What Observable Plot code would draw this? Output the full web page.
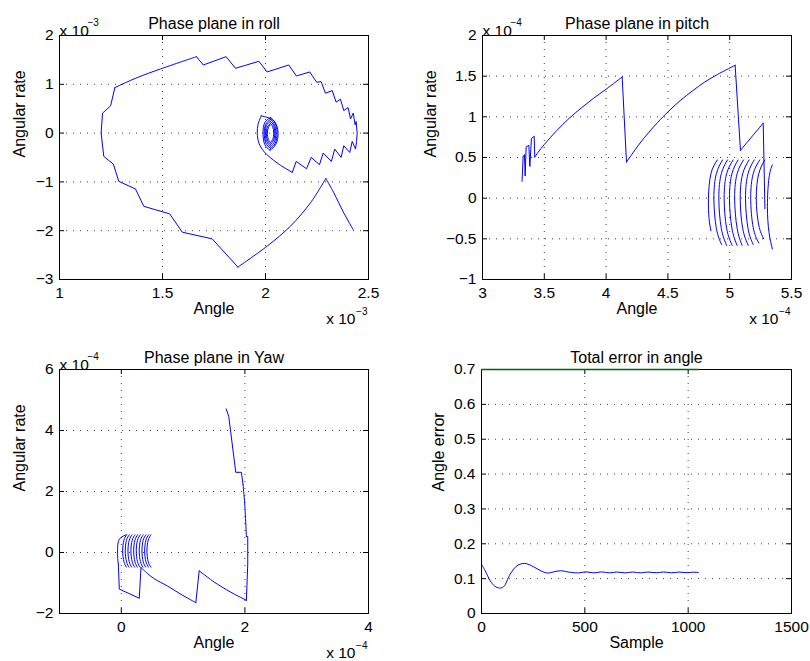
<!DOCTYPE html>
<html>
<head>
<meta charset="utf-8">
<script src="https://cdn.jsdelivr.net/npm/d3@7"></script>
<script src="https://cdn.jsdelivr.net/npm/@observablehq/plot@0.6"></script>
<style>
  body { margin: 0; background: #fff; }
  #wrap { position: relative; width: 810px; height: 661px; background: #fff; overflow: hidden; }
  .panel { position: absolute; }
</style>
</head>
<body>
<div id="wrap"></div>
<script>
// ================= Roll phase plane (units: 1e-3) =================
// straight (piecewise-linear) parts of the trajectory
const rollLineX  = [1.866,1.741,1.596,1.535,1.409,1.369,1.288,1.261,1.215,1.202,1.209,1.248,1.269,
                    1.665,1.698,1.809,1.854,1.968,2.008,2.113,2.150,2.215,2.248,2.270,2.291,2.324,2.343,2.364,2.380,2.401,2.413,2.426,2.435,2.440,2.445,2.442,2.437,2.421,2.409,2.380,2.367,2.336,2.320,2.280,2.262,2.222,2.199,2.149,2.130];
const rollLineY  = [-2.745,-2.167,-2.03,-1.656,-1.5,-1.145,-0.989,-0.635,-0.477,0,0.409,0.558,0.933,
                    1.566,1.396,1.566,1.328,1.471,1.253,1.396,1.171,1.253,1.042,1.055,0.817,0.871,0.634,0.695,0.462,0.523,0.292,0.409,0.17,0.238,0,-0.17,-0.327,-0.17,-0.396,-0.259,-0.498,-0.327,-0.58,-0.409,-0.648,-0.498,-0.73,-0.58,-0.805];
const rollLineId = [0,0,0,0,0,0,0,0,0,0,0,0,0,
                    1,1,1,1,1,1,1,1,1,1,1,1,1,1,1,1,1,1,1,1,1,1,1,1,1,1,1,1,1,1,1,1,1,1,1,1];
// smooth parts of the trajectory
const rollCurveX  = [2.426,2.380,2.332,2.293, 2.293,2.218,2.121,2.008,1.866, 1.269,1.377,1.490,1.665, 2.130,2.057,1.992,1.968,1.960,1.964,1.979];
const rollCurveY  = [-1.98,-1.635,-1.226,-0.93, -0.93,-1.43,-1.907,-2.316,-2.745, 0.933,1.137,1.314,1.566, -0.805,-0.613,-0.375,-0.204,0,0.18,0.354];
const rollCurveId = [0,0,0,0, 1,1,1,1,1, 2,2,2,2, 3,3,3,3,3,3,3];
// inner decaying spiral, one half-loop per arc (top, upper, middle, lower, bottom)
const rollArcTopX = [1.979,2.024,2.024,2.024,2.024,2.024,2.024,2.024,2.024,2.024];
const rollArcUpX  = [2.040,1.996,2.047,2.001,2.043,2.005,2.039,2.010,2.035,2.014];
const rollArcMidX = [2.061,1.988,2.056,1.994,2.050,1.999,2.045,2.004,2.040,2.009];
const rollArcLowX = [2.050,1.996,2.047,2.001,2.043,2.005,2.039,2.010,2.035,2.014];
const rollArcBotX = [2.022,2.022,2.024,2.024,2.024,2.024,2.024,2.024,2.024,2.024];
const rollArcTopY = [0.354,0.32,0.32,0.28,0.28,0.24,0.24,0.20,0.20,0.17];
const rollArcUpY  = [0.25,0.21,0.21,0.18,0.18,0.16,0.16,0.13,0.13,0.11];
const rollArcMidY = [0,0,0,0,0,0,0,0,0,0];
const rollArcLowY = [-0.23,-0.23,-0.21,-0.20,-0.18,-0.17,-0.15,-0.15,-0.13,-0.13];
const rollArcBotY = [-0.35,-0.35,-0.31,-0.31,-0.27,-0.27,-0.23,-0.23,-0.19,-0.19];

// ================= Pitch phase plane (units: 1e-4) =================
const pitchLineX  = [3.320,3.329,3.340,3.345,3.353,3.375,3.383,3.396,3.418,3.423, 4.13,4.165, 5.044,5.087, 5.271,5.285];
const pitchLineY  = [0.206,0.519,0.535,0.272,0.63,0.65,0.39,0.733,0.762,0.506, 1.49,0.444, 1.634,0.588, 0.922,-0.13];
const pitchLineId = [0,0,0,0,0,0,0,0,0,0, 1,1, 2,2, 3,3];
const pitchCurveX  = [3.423,3.45,3.5,3.6,3.7,3.8,3.9,4.0,4.13, 4.165,4.2,4.281,4.416,4.5,4.6,4.7,4.8,4.9,5.044, 5.087,5.184,5.271];
const pitchCurveY  = [0.506,0.565,0.66,0.83,0.98,1.11,1.23,1.34,1.49, 0.444,0.52,0.69,0.93,1.06,1.20,1.32,1.43,1.52,1.634, 0.588,0.765,0.922];
const pitchCurveId = [0,0,0,0,0,0,0,0,0, 1,1,1,1,1,1,1,1,1,1, 2,2,2];
const pitchArcTopX = [4.901,4.942,4.982,5.028,5.068,5.112,5.157,5.198,5.243,5.284,5.345];
const pitchArcUpX  = [4.848,4.892,4.932,4.975,5.018,5.060,5.105,5.148,5.190,5.235,5.318];
const pitchArcMidX = [4.828,4.872,4.912,4.955,4.998,5.040,5.085,5.128,5.170,5.215,5.305];
const pitchArcLowX = [4.833,4.892,4.932,4.975,5.018,5.060,5.105,5.148,5.190,5.235,5.318];
const pitchArcBotX = [4.848,4.935,4.975,5.020,5.060,5.100,5.150,5.190,5.235,5.275,5.345];
const pitchArcTopY = [0.47,0.47,0.47,0.47,0.47,0.47,0.47,0.47,0.47,0.47,0.41];
const pitchArcUpY  = [0.30,0.30,0.30,0.30,0.30,0.30,0.30,0.30,0.30,0.30,0.25];
const pitchArcMidY = [0,0,0,0,0,0,0,0,0,0,-0.10];
const pitchArcLowY = [-0.25,-0.37,-0.37,-0.37,-0.37,-0.37,-0.37,-0.37,-0.36,-0.33,-0.42];
const pitchArcBotY = [-0.40,-0.57,-0.58,-0.58,-0.58,-0.58,-0.58,-0.57,-0.55,-0.50,-0.625];

// ================= Yaw phase plane (units: 1e-4) =================
const yawLineX  = [1.696,1.739,1.852,1.943,1.970, 2.024,2.046,2.046,2.024, 1.260,1.206, 0.318,0.291,-0.032,-0.048];
const yawLineY  = [4.71,4.458,2.629,2.629,2.223, 0.526,0.526,-0.383,-1.566, -0.602,-1.643, -0.493,-1.50,-1.20,-0.383];
const yawLineId = [0,0,0,0,0, 1,1,1,1, 2,2, 3,3,3,3];
const yawCurveX  = [1.970,1.997,2.024, 2.024,1.771,1.503,1.390,1.260, 1.206,0.964,0.748,0.533,0.425,0.318];
const yawCurveY  = [2.223,1.588,0.526, -1.566,-1.30,-0.97,-0.80,-0.602, -1.643,-1.37,-1.10,-0.86,-0.69,-0.493];
const yawCurveId = [0,0,0, 1,1,1,1,1, 2,2,2,2,2,2];
const yawArcTopX = [0.075,0.087,0.129,0.173,0.221,0.265,0.307,0.355,0.399,0.443,0.480];
const yawArcUpX  = [-0.035,0.042,0.084,0.128,0.176,0.220,0.262,0.310,0.354,0.398,0.435];
const yawArcMidX = [-0.060,0.022,0.064,0.108,0.156,0.200,0.242,0.290,0.334,0.378,0.415];
const yawArcLowX = [-0.058,0.042,0.084,0.128,0.176,0.220,0.262,0.310,0.354,0.398,0.435];
const yawArcBotX = [-0.048,0.082,0.124,0.168,0.216,0.260,0.302,0.350,0.394,0.438,0.480];
const yawArcTopY = [0.58,0.58,0.58,0.58,0.58,0.58,0.58,0.58,0.58,0.58,0.58];
const yawArcUpY  = [0.42,0.40,0.40,0.40,0.40,0.40,0.40,0.40,0.40,0.40,0.40];
const yawArcMidY = [0.10,0.05,0.05,0.05,0.05,0.05,0.05,0.05,0.05,0.05,0.05];
const yawArcLowY = [-0.20,-0.30,-0.30,-0.30,-0.30,-0.30,-0.30,-0.30,-0.30,-0.30,-0.30];
const yawArcBotY = [-0.383,-0.48,-0.48,-0.48,-0.48,-0.48,-0.48,-0.48,-0.48,-0.48,-0.48];

// ================= Total error in angle =================
const errSample = [0,18,42,66,87,107,139,172,209,252,293,320,350,382,431,470,505,545,580,620,655,695,730,770,805,845,880,920,955,995,1025,1049];
const errValue  = [0.141,0.1227,0.094,0.0776,0.073,0.0767,0.113,0.137,0.1437,0.134,0.1207,0.116,0.1195,0.1227,0.118,0.1165,0.1195,0.1165,0.1195,0.1165,0.119,0.1165,0.119,0.1165,0.119,0.1168,0.119,0.1168,0.1188,0.117,0.1185,0.1175];
const limitSample = [0, 1050];
const limitValue = [0.7, 0.7];

// ================= Axes =================
const rollXTicks = [1,1.5,2,2.5], rollYTicks = [-3,-2,-1,0,1,2];
const pitchXTicks = [3,3.5,4,4.5,5,5.5], pitchYTicks = [-1,-0.5,0,0.5,1,1.5,2];
const yawXTicks = [0,2,4], yawYTicks = [-2,0,2,4,6];
const errXTicks = [0,500,1000,1500], errYTicks = [0,0.1,0.2,0.3,0.4,0.5,0.6,0.7];

const BLUE = "#0000ff";
const FONT = "'Liberation Sans', Arial, Helvetica, sans-serif";
const fmt = d => String(d).replace("-", "\u2212");

function pts(xs, ys) { return xs.map((x, i) => ({x, y: ys[i]})); }
function pieces(xs, ys, ids) { return xs.map((x, i) => ({x, y: ys[i], piece: ids[i]})); }
function arcs(xs, ys) {
  // xs, ys: [top, upper, middle, lower, bottom]; each arc is one series
  const out = [];
  xs[0].forEach((_, i) => {
    [0, 1, 2, 3, 4].forEach(k => out.push({arc: i, x: xs[k][i], y: ys[k][i]}));
  });
  return out;
}

function panel(cfg) {
  const W = 405;
  const pw = W - cfg.ml - cfg.mr;
  const ph = cfg.h - cfg.mt - cfg.mb;
  const grid = {stroke: "#000", strokeOpacity: 0.75, strokeDasharray: "1,6"};
  const marks = [
    Plot.gridX({ticks: cfg.xTicks, ...grid}),
    Plot.gridY({ticks: cfg.yTicks, ...grid}),
    Plot.tickX(cfg.xTicks, {x: d => d, insetTop: ph - 5, stroke: "#000"}),
    Plot.tickX(cfg.xTicks, {x: d => d, insetBottom: ph - 5, stroke: "#000"}),
    Plot.tickY(cfg.yTicks, {y: d => d, insetRight: pw - 5, stroke: "#000"}),
    Plot.tickY(cfg.yTicks, {y: d => d, insetLeft: pw - 5, stroke: "#000"}),
    Plot.axisX({ticks: cfg.xTicks, tickSize: 0, tickPadding: 7, tickFormat: fmt, label: null, fontSize: 15.5}),
    Plot.axisY({ticks: cfg.yTicks, tickSize: 0, tickPadding: 6, tickFormat: fmt, label: null, fontSize: 15.5}),
    ...cfg.marks,
    Plot.frame({stroke: "#000"}),
    ...(cfg.topMarks || []),
    Plot.text([cfg.title], {frameAnchor: "top", dy: -18, fontSize: 16}),
    Plot.text([cfg.xLabel], {frameAnchor: "bottom", dy: 34, fontSize: 16}),
    Plot.text([cfg.yLabel], {frameAnchor: "left", dx: cfg.yLabelDx, rotate: -90, fontSize: 16})
  ];
  if (cfg.expo) {
    marks.push(
      Plot.text(["x 10"], {frameAnchor: "top-left", textAnchor: "start", dy: -11, fontSize: 15.5}),
      Plot.text([cfg.expo], {frameAnchor: "top-left", textAnchor: "start", dx: 28, dy: -17, fontSize: 10}),
      Plot.text(["x 10"], {frameAnchor: "bottom-right", textAnchor: "end", dx: -13, dy: 44, fontSize: 15.5}),
      Plot.text([cfg.expo], {frameAnchor: "bottom-right", textAnchor: "end", dx: -1, dy: 35, fontSize: 10})
    );
  }
  const svg = Plot.plot({
    width: W, height: cfg.h,
    marginLeft: cfg.ml, marginRight: cfg.mr, marginTop: cfg.mt, marginBottom: cfg.mb,
    style: {fontFamily: FONT, fontSize: "15.5px", background: "transparent", color: "#000", overflow: "visible"},
    x: {domain: cfg.xDomain},
    y: {domain: cfg.yDomain},
    marks
  });
  const div = document.createElement("div");
  div.className = "panel";
  div.style.left = cfg.left + "px";
  div.style.top = cfg.top + "px";
  div.appendChild(svg);
  document.getElementById("wrap").appendChild(div);
}

const lineOpts = {x: "x", y: "y", stroke: BLUE, strokeWidth: 1};
const pieceLine = {...lineOpts, z: "piece"};
const pieceCurve = {...lineOpts, z: "piece", curve: "catmull-rom"};
const arcOpts = {...lineOpts, z: "arc", curve: "natural"};

panel({
  left: 0, top: 0, h: 330, ml: 59, mr: 37, mt: 35, mb: 51,
  xDomain: [1, 2.5], yDomain: [-3, 2], xTicks: rollXTicks, yTicks: rollYTicks,
  title: "Phase plane in roll", xLabel: "Angle", yLabel: "Angular rate", yLabelDx: -40, expo: "\u22123",
  marks: [
    Plot.line(pieces(rollLineX, rollLineY, rollLineId), pieceLine),
    Plot.line(pieces(rollCurveX, rollCurveY, rollCurveId), pieceCurve),
    Plot.line(arcs([rollArcTopX, rollArcUpX, rollArcMidX, rollArcLowX, rollArcBotX],
                   [rollArcTopY, rollArcUpY, rollArcMidY, rollArcLowY, rollArcBotY]), arcOpts)
  ]
});

panel({
  left: 405, top: 0, h: 330, ml: 77, mr: 19, mt: 35, mb: 51,
  xDomain: [3, 5.5], yDomain: [-1, 2], xTicks: pitchXTicks, yTicks: pitchYTicks,
  title: "Phase plane in pitch", xLabel: "Angle", yLabel: "Angular rate", yLabelDx: -52, expo: "\u22124",
  marks: [
    Plot.line(pieces(pitchLineX, pitchLineY, pitchLineId), pieceLine),
    Plot.line(pieces(pitchCurveX, pitchCurveY, pitchCurveId), pieceCurve),
    Plot.line(arcs([pitchArcTopX, pitchArcUpX, pitchArcMidX, pitchArcLowX, pitchArcBotX],
                   [pitchArcTopY, pitchArcUpY, pitchArcMidY, pitchArcLowY, pitchArcBotY]), arcOpts)
  ]
});

panel({
  left: 0, top: 330, h: 331, ml: 59, mr: 37, mt: 39, mb: 48,
  xDomain: [-1, 4], yDomain: [-2, 6], xTicks: yawXTicks, yTicks: yawYTicks,
  title: "Phase plane in Yaw", xLabel: "Angle", yLabel: "Angular rate", yLabelDx: -40, expo: "\u22124",
  marks: [
    Plot.line(pieces(yawLineX, yawLineY, yawLineId), pieceLine),
    Plot.line(pieces(yawCurveX, yawCurveY, yawCurveId), pieceCurve),
    Plot.line(arcs([yawArcTopX, yawArcUpX, yawArcMidX, yawArcLowX, yawArcBotX],
                   [yawArcTopY, yawArcUpY, yawArcMidY, yawArcLowY, yawArcBotY]), arcOpts)
  ]
});

panel({
  left: 405, top: 330, h: 331, ml: 76, mr: 19, mt: 39, mb: 48,
  xDomain: [0, 1500], yDomain: [0, 0.7], xTicks: errXTicks, yTicks: errYTicks,
  title: "Total error in angle", xLabel: "Sample", yLabel: "Angle error", yLabelDx: -43, expo: null,
  marks: [
    Plot.line(pts(errSample, errValue), {...lineOpts, curve: "catmull-rom"})
  ],
  topMarks: [
    Plot.line(pts(limitSample, limitValue), {x: "x", y: "y", stroke: "#006400", strokeWidth: 1.3})
  ]
});
</script>
</body>
</html>
